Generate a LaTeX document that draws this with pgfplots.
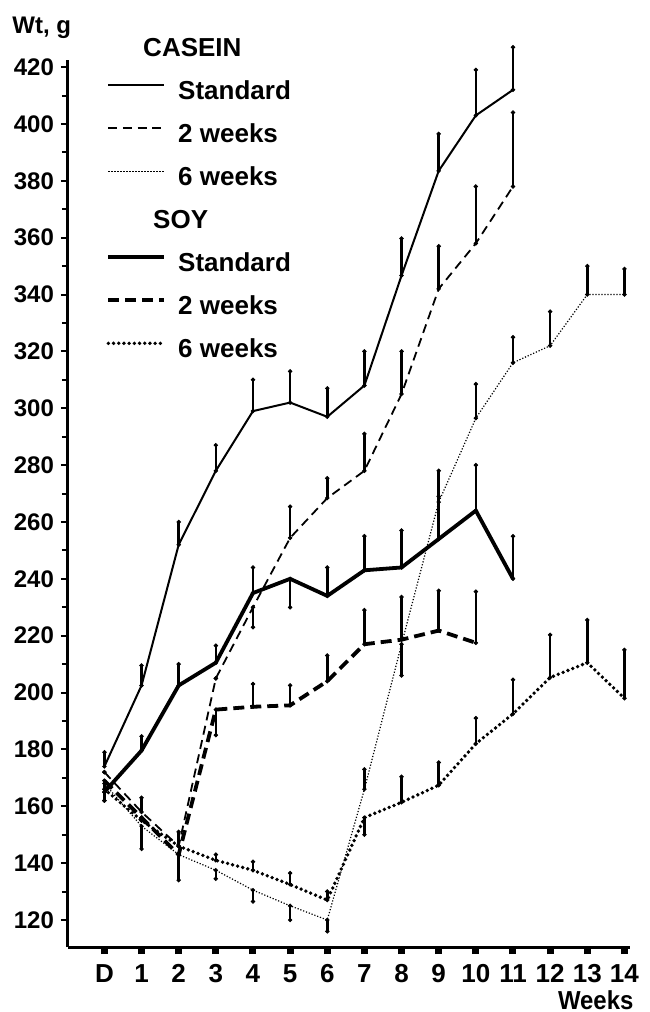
\documentclass[border=0pt]{standalone}
\usepackage{pgfplots}
\usepackage{pgfplotstable}
\pgfplotsset{compat=1.18}
\usepackage{fontspec}
\setmainfont{Liberation Sans}

\pgfplotstableread{
x y ep em
0 174 5 0
1 202.5 7 0
2 252 8 0
3 278 9 0
4 299 11 0
5 302 11 0
6 297 10 0
7 308 12 0
8 346.7 13 0
9 383.5 13 0
10 403 16 0
11 412 15 0
}\CS
\pgfplotstableread{
x y ep em
0 172 0 0
1 158 5 0
2 146 0 0
3 205 0 0
4 230 0 7
5 254.4 11 0
6 268.4 7 0
7 278 13 0
8 305 15 0
9 342 15 0
10 358 20 0
11 378 26 0
}\CT
\pgfplotstableread{
x y ep em
0 168 0 6
1 153 0 8
2 143 0 0
3 137.5 0 3
4 130.5 0 4
5 125 0 5
6 120 0 4
7 166 7 0
8 217 0 11
9 267 11 0
10 296.5 12 0
11 316 9 0
12 322 12 0
13 340 10 0
14 340 9 0
}\CX
\pgfplotstableread{
x y ep em
0 165 0 0
1 179.6 5 0
2 202.5 7.5 0
3 210.5 6 0
4 235 9 0
5 240 0 10
6 234 10 0
7 243 12 0
8 244 13 0
9 254 15 0
10 264 16 0
11 240 15 0
}\SS
\pgfplotstableread{
x y ep em
0 169 0 7
1 156 0 0
2 143 0 9
3 194 0 9
4 195 8 0
5 195.5 7 0
6 204 9 0
7 217 12 0
8 218.6 15 0
9 221.8 14 0
10 217.5 18 0
}\ST
\pgfplotstableread{
x y ep em
0 166 0 0
1 155 0 0
2 146 5 0
3 141 2 0
4 137.5 3 0
5 132.5 4 0
6 127 3 0
7 156 0 6
8 161.4 9 0
9 167.4 8 0
10 182 9 0
11 192.5 12 0
12 205.3 15 0
13 210.5 15 0
14 198 17 0
}\SX

\tikzset{
 cstd/.style={line width=1pt},
 ctwo/.style={line width=0.9pt, dash pattern=on 4.5pt off 2.8pt},
 csix/.style={line width=0.6pt, dash pattern=on 0.6pt off 0.9pt},
 sstd/.style={line width=1.9pt},
 stwo/.style={line width=1.9pt, dash pattern=on 5.5pt off 3pt},
 ssix/.style={line width=1.9pt, line cap=round, dash pattern=on 0pt off 2.6pt},
}

\begin{document}
\begin{tikzpicture}
\useasboundingbox (-34pt,-32.5pt) rectangle (290.5pt,473.5pt);
\begin{axis}[
 scale only axis, width=281pt, height=443.5pt,
 xmin=-0.98, xmax=14.15, ymin=110.5, ymax=422.5,
 axis lines=left, axis line style={line width=1.5pt, -},
 xtick={0,...,14}, xticklabels={D,1,2,3,4,5,6,7,8,9,10,11,12,13,14},
 ytick={120,140,...,420}, minor y tick num=1,
 tick align=outside, major tick length=3.5pt, minor tick length=3pt,
 x tick style={line width=3.5pt, black},
 y tick style={line width=1pt, black},
 minor y tick style={line width=1pt, black},
 yticklabel style={font=\bfseries\fontsize{12}{12}\selectfont},
 xticklabel style={font=\bfseries\fontsize{13}{13}\selectfont, text height=9.5pt, text depth=0pt, anchor=north, yshift=-1pt},
 /pgf/number format/assume math mode=true,
 clip=false,
 legend style={at={(axis description cs:0.057,1.0305)}, anchor=north west, draw=none, fill=none,
   font=\bfseries\fontsize{13}{13}\selectfont,
   nodes={inner sep=0pt, text height=9.5pt, text depth=2.5pt},
   row sep=9.5pt, column sep=6pt},
 legend cell align=left,
 legend image code/.code={\draw[#1] (0pt,3.5pt) -- (28pt,3.5pt);},
 error bars/y dir=both, error bars/y explicit,
 error bars/error bar style={line width=1.3pt, solid},
 error bars/error mark=*,
 error bars/error mark options={mark size=0.9pt, solid},
]
\addplot[cstd, forget plot] table[x=x,y=y,y error plus=ep,y error minus=em] {\CS};
\addplot[ctwo, forget plot] table[x=x,y=y,y error plus=ep,y error minus=em] {\CT};
\addplot[csix, forget plot] table[x=x,y=y,y error plus=ep,y error minus=em] {\CX};
\addplot[sstd, forget plot] table[x=x,y=y,y error plus=ep,y error minus=em] {\SS};
\addplot[stwo, forget plot] table[x=x,y=y,y error plus=ep,y error minus=em] {\ST};
\addplot[ssix, forget plot] table[x=x,y=y,y error plus=ep,y error minus=em] {\SX};

\addlegendimage{empty legend}\addlegendentry{\hspace*{-17.5pt}CASEIN}
\addlegendimage{cstd}\addlegendentry{Standard}
\addlegendimage{ctwo}\addlegendentry{2 weeks}
\addlegendimage{csix}\addlegendentry{6 weeks}
\addlegendimage{empty legend}\addlegendentry{\hspace*{-12.5pt}SOY}
\addlegendimage{sstd}\addlegendentry{Standard}
\addlegendimage{stwo}\addlegendentry{2 weeks}
\addlegendimage{ssix}\addlegendentry{6 weeks}

\node[anchor=west, inner sep=0pt, font=\bfseries\fontsize{12}{12}\selectfont] at (axis description cs:-0.0996,1.036) {Wt, g};
\node[inner sep=0pt, font=\bfseries\fontsize{13}{13}\selectfont] at (axis description cs:0.939,-0.06) {\scalebox{0.92}[1]{Weeks}};
\end{axis}
\end{tikzpicture}
\end{document}
